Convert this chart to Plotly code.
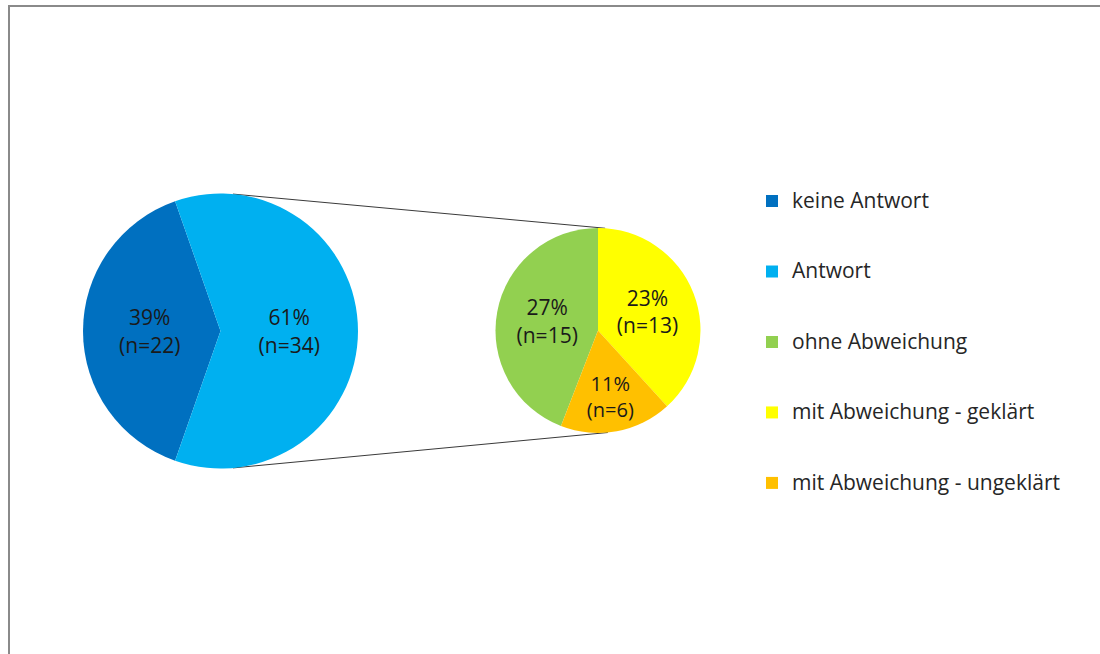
import math
import plotly.graph_objects as go

# ---- data ----
main_labels = ["keine Antwort", "Antwort"]
main_values = [22, 34]
main_colors = ["#0070C0", "#00B0F0"]

sub_labels = ["ohne Abweichung", "mit Abweichung - geklärt", "mit Abweichung - ungeklärt"]
sub_values = [15, 13, 6]
sub_colors = ["#92D050", "#FFFF00", "#FFC000"]

total = sum(main_values)

# ---- geometry (pixels) ----
W, H = 1100, 654
MAIN_CX, MAIN_CY, MAIN_R = 220.5, 331.0, 137.5
SUB_CX, SUB_CY, SUB_R = 598.0, 330.5, 102.5
FONT = "Open Sans"
TXT = "#1a1a1a"


def domain(cx, cy, r):
    return dict(x=[(cx - r) / W, (cx + r) / W], y=[1 - (cy + r) / H, 1 - (cy - r) / H])


def pct(v):
    return f"{round(v / total * 100)}%"


def legend_label(s):
    # blank lines give each legend entry extra height
    return f"\u00a0<br><span style='font-size:21px'>{s}</span><br>\u00a0"


LABEL_TMPL = "%{customdata}<br>(n=%{value})"

# main pie: "Antwort" slice centred at 3 o'clock
antwort_share = main_values[1] / total
main_rot = 90 + 180 * antwort_share
# secondary pie: second slice starts at 12 o'clock
sub_rot = 360 * (1 - sub_values[0] / sum(sub_values))

fig = go.Figure()
fig.add_trace(go.Pie(
    labels=[legend_label(s) for s in main_labels],
    values=main_values,
    customdata=[pct(v) for v in main_values],
    texttemplate=LABEL_TMPL,
    textposition="inside",
    insidetextorientation="horizontal",
    insidetextfont=dict(family=FONT, size=21, color=TXT),
    marker=dict(colors=main_colors, line=dict(width=0)),
    sort=False, direction="clockwise", rotation=main_rot,
    domain=domain(MAIN_CX, MAIN_CY, MAIN_R),
    hoverinfo="skip",
))
fig.add_trace(go.Pie(
    labels=[legend_label(s) for s in sub_labels],
    values=sub_values,
    customdata=[pct(v) for v in sub_values],
    texttemplate=LABEL_TMPL,
    textposition="inside",
    insidetextorientation="horizontal",
    insidetextfont=dict(family=FONT, size=21, color=TXT),
    marker=dict(colors=sub_colors, line=dict(width=0)),
    sort=False, direction="clockwise", rotation=sub_rot,
    domain=domain(SUB_CX, SUB_CY, SUB_R),
    hoverinfo="skip",
))

# connector lines between the pies
shapes = []
for ang_main, ang_sub in [(5.2, 4.0), (174.8, 174.5)]:
    am, asb = math.radians(ang_main), math.radians(ang_sub)
    x0 = MAIN_CX + MAIN_R * math.sin(am)
    y0 = MAIN_CY - MAIN_R * math.cos(am)
    x1 = SUB_CX + SUB_R * math.sin(asb)
    y1 = SUB_CY - SUB_R * math.cos(asb)
    shapes.append(dict(type="line", xref="paper", yref="paper",
                       x0=x0 / W, y0=1 - y0 / H, x1=x1 / W, y1=1 - y1 / H,
                       line=dict(color="#3a3a3a", width=1), layer="below"))
# outer frame
shapes.append(dict(type="rect", xref="paper", yref="paper",
                   x0=9 / W, x1=1.05, y0=-0.05, y1=1 - 6 / H,
                   line=dict(color="#8a8a8a", width=2), fillcolor="rgba(0,0,0,0)"))

fig.update_layout(
    width=W, height=H,
    margin=dict(l=0, r=0, t=0, b=0, autoexpand=False),
    paper_bgcolor="white", plot_bgcolor="white",
    font=dict(family=FONT, color=TXT),
    showlegend=True,
    legend=dict(x=752 / W, xanchor="left", y=1 - 160.8 / H, yanchor="top",
                font=dict(family=FONT, size=17.3, color="#262626"),
                bgcolor="rgba(0,0,0,0)", borderwidth=0, traceorder="normal"),
    shapes=shapes,
)

fig.write_html(
    "out.html",
    config={"displayModeBar": False},
    post_script="document.body.style.margin='0';document.body.style.overflow='hidden';",
)
